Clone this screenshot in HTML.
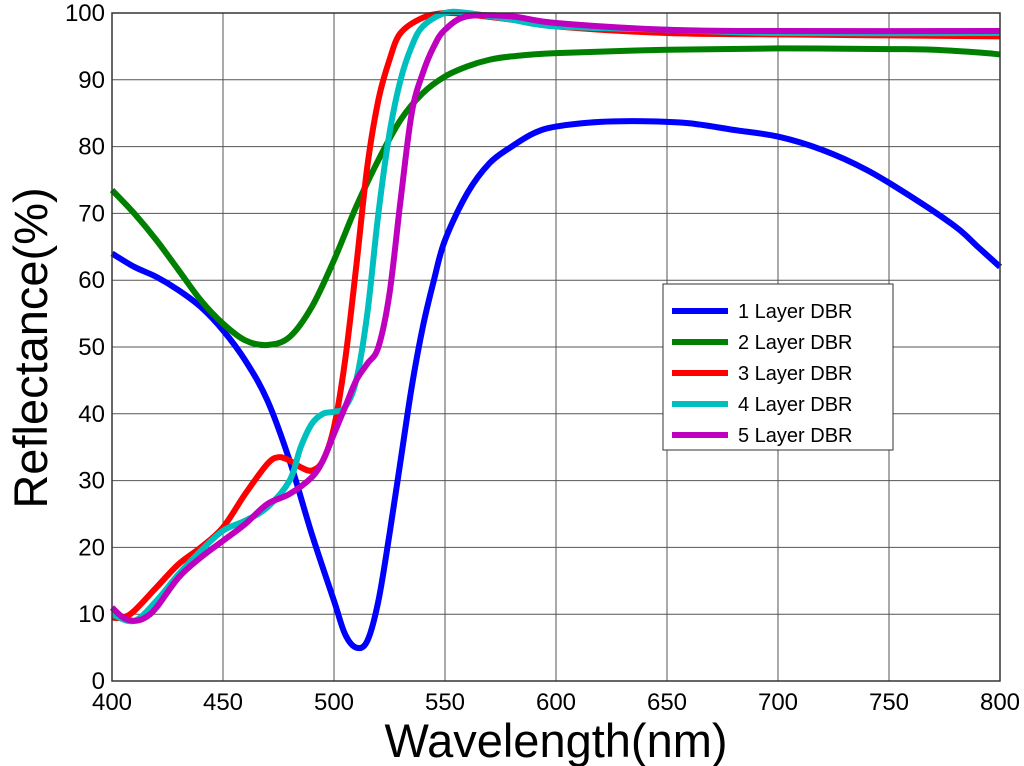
<!DOCTYPE html>
<html><head><meta charset="utf-8"><style>
body{margin:0;background:#fff}
svg{display:block;font-family:"Liberation Sans",sans-serif}
</style></head><body>
<svg id="chart" width="1024" height="766" viewBox="0 0 1024 766" xmlns="http://www.w3.org/2000/svg">
<rect width="1024" height="766" fill="#fff"/>
<g id="grid"></g>
<g id="series"></g>
<g id="axes"></g>
<text x="0" y="0" transform="translate(47,348) rotate(-90)" text-anchor="middle" font-size="47">Reflectance(%)</text>
<text x="556" y="757" text-anchor="middle" font-size="47">Wavelength(nm)</text>
<g id="legend"></g>
</svg>
<script>
const xTicks=[400,450,500,550,600,650,700,750,800];
const yTicks=[0,10,20,30,40,50,60,70,80,90,100];
const seriesNames=["1 Layer DBR","2 Layer DBR","3 Layer DBR","4 Layer DBR","5 Layer DBR"];
const seriesColors=["#0000ff","#008000","#ff0000","#00bfbf","#bf00bf"];
const wl1=[400,410,420,430,440,450,460,470,480,490,500,505,510,515,520,525,530,535,540,545,550,560,570,580,590,600,620,640,660,680,700,720,740,760,780,790,800];
const r1=[64,62,60.5,58.5,56,52.5,48,42,33,22,12,7,5,6,12,22,33,44,53,60,66,73,77.5,80,82,83,83.7,83.8,83.5,82.5,81.5,79.5,76.5,72.5,68,65,62];
const wl2=[400,410,420,430,440,450,460,470,480,490,500,510,520,530,540,550,560,570,580,600,650,700,750,770,790,800];
const r2=[73.5,70,66,61.5,57,53.5,51,50.3,51.5,56,63,71,78,84,88,90.5,92,93,93.5,94,94.5,94.7,94.6,94.5,94.1,93.8];
const wl3=[400,405,410,420,430,440,450,460,470,475,480,485,490,495,500,505,510,515,520,525,530,540,550,560,580,600,650,700,800];
const r3=[9.5,9.5,10.5,14,17.5,20,23,28,32.5,33.5,33,32,31.5,33,38,48,62,77,87,93,97,99.3,100,99.8,99,98,97,96.8,96.5];
const wl4=[400,410,420,430,440,450,460,470,480,485,490,495,500,505,510,515,520,525,530,535,540,550,560,580,600,650,700,800];
const r4=[10,9,12,16,19.5,22.5,24,26,30,35,38.5,40,40.3,41,45,55,70,82,90,95,98,100,100,99,98,97.5,97,97];
const wl5=[400,405,410,415,420,430,440,450,460,470,480,490,495,500,505,510,515,520,525,530,535,540,545,550,560,580,600,650,700,800];
const r5=[11,9.5,9,9.5,11,15.5,18.5,21,23.5,26.5,28,30.5,33,37,41,45,47.5,50,58,72,85,91,95,97.5,99.5,99.5,98.5,97.5,97.3,97.3];
const seriesX=[wl1,wl2,wl3,wl4,wl5];
const seriesY=[r1,r2,r3,r4,r5];
const X0=112,X1=1000,Y0=681,Y1=13;
const sx=v=>X0+(v-400)/400*(X1-X0);
const sy=v=>Y0-v/100*(Y0-Y1);
const NS="http://www.w3.org/2000/svg";
function mk(tag,attrs,parent){const e=document.createElementNS(NS,tag);for(const k in attrs)e.setAttribute(k,attrs[k]);parent.appendChild(e);return e;}
const grid=document.getElementById('grid'),axes=document.getElementById('axes'),ser=document.getElementById('series'),leg=document.getElementById('legend');
xTicks.forEach(t=>{
 const l=mk('line',{x1:sx(t),x2:sx(t),y1:Y1,y2:Y0,stroke:'#555','stroke-width':1},grid);
 
 
 const tx=mk('text',{x:sx(t),y:710,'text-anchor':'middle','font-size':24},axes);
 tx.textContent=t;
 
 
});
yTicks.forEach(t=>{
 const l=mk('line',{x1:X0,x2:X1,y1:sy(t),y2:sy(t),stroke:'#555','stroke-width':1},grid);
 
 
 const tx=mk('text',{x:105,y:sy(t)+8,'text-anchor':'end','font-size':24},axes);
 tx.textContent=t;
 
 
});
const box=mk('rect',{x:X0,y:Y1,width:X1-X0,height:Y0-Y1,fill:'none',stroke:'#333','stroke-width':1.5},axes);


seriesX.forEach((xs,i)=>{
 const ys=seriesY[i];
 let d='M'+sx(xs[0])+','+sy(ys[0]);
 for(let j=0;j<xs.length-1;j++){
  const p0=[sx(xs[Math.max(j-1,0)]),sy(ys[Math.max(j-1,0)])],p1=[sx(xs[j]),sy(ys[j])],p2=[sx(xs[j+1]),sy(ys[j+1])],p3=[sx(xs[Math.min(j+2,xs.length-1)]),sy(ys[Math.min(j+2,xs.length-1)])];
  const c1=[p1[0]+(p2[0]-p0[0])/6,p1[1]+(p2[1]-p0[1])/6],c2=[p2[0]-(p3[0]-p1[0])/6,p2[1]-(p3[1]-p1[1])/6];
  d+=' C'+c1+' '+c2+' '+p2;
 }
 const p=mk('path',{d:d,fill:'none',stroke:seriesColors[i],'stroke-width':6,'stroke-linejoin':'round'},ser);
 
 
});
const lb=mk('rect',{x:663,y:284,width:230,height:166,fill:'#fff',stroke:'#333','stroke-width':1},leg);


seriesNames.forEach((n,i)=>{
 const y=311+i*31;
 const l=mk('line',{x1:672,x2:728,y1:y,y2:y,stroke:seriesColors[i],'stroke-width':6},leg);
 
 
 const t=mk('text',{x:738,y:y+7,'font-size':20},leg);
 t.textContent=n;
 
 
});
</script>
</body></html>
